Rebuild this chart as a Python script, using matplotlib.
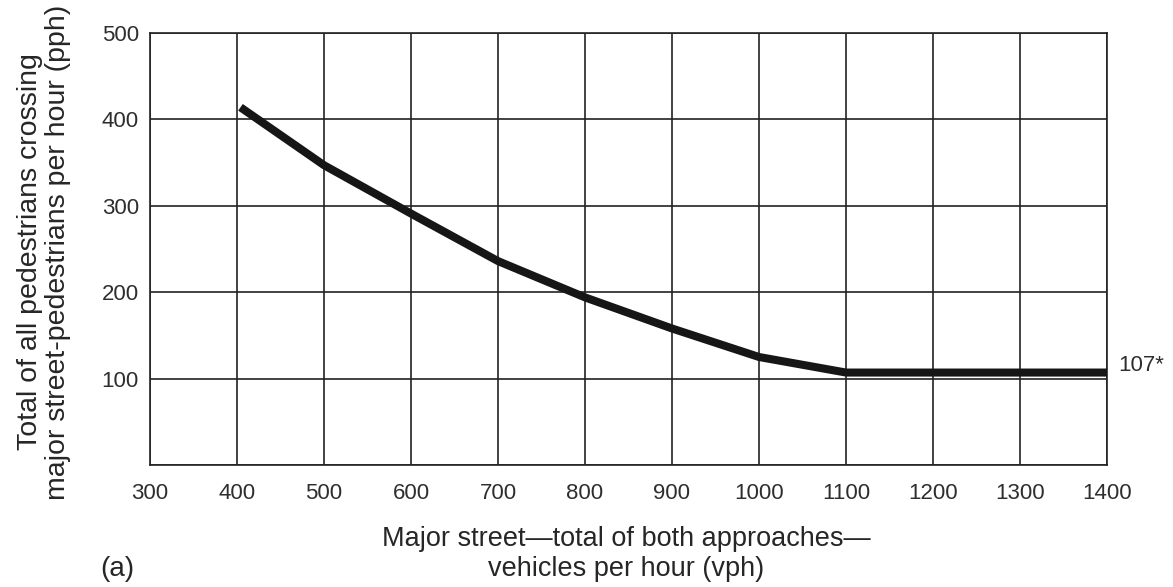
import matplotlib
matplotlib.use("Agg")
import matplotlib.pyplot as plt

# curve
vph = [404, 500, 600, 700, 800, 900, 1000, 1100, 1400]
pph = [414, 347, 291, 236, 194, 158, 125, 107, 107]

x_ticks = [300, 400, 500, 600, 700, 800, 900, 1000, 1100, 1200, 1300, 1400]
y_ticks = [0, 100, 200, 300, 400, 500]
y_ticklabels = ["", "100", "200", "300", "400", "500"]
end_label = "107*"

plt.rcParams['font.family'] = ['Liberation Sans', 'DejaVu Sans']
W, H = 1173, 587

fig = plt.figure(figsize=(W / 100, H / 100), dpi=100)
ax = fig.add_axes([150 / W, 1 - 465 / H, 957 / W, 432 / H])

ax.plot(vph, pph, color='#161616', lw=5.8, solid_capstyle='butt', zorder=3)

ax.set_xlim(300, 1400)
ax.set_ylim(0, 500)
ax.set_xticks(x_ticks)
ax.set_yticks(y_ticks)
ax.set_yticklabels(y_ticklabels)
ax.grid(True, color='#222222', lw=1.2)
ax.tick_params(length=0, labelsize=16, colors='#2e2e2e')
ax.tick_params(axis='x', pad=13)
ax.tick_params(axis='y', pad=8)
for s in ax.spines.values():
    s.set_color('#222222')
    s.set_linewidth(1.2)

# axis titles placed by hand to match the scan
fig.text(626 / W, 1 - 554 / H, "Major street\u2014total of both approaches\u2014\nvehicles per hour (vph)",
         ha='center', va='center', fontsize=19.5, color='#262626', linespacing=1.15)
fig.text(44 / W, 1 - 252 / H, "Total of all pedestrians crossing\nmajor street-pedestrians per hour (pph)",
         ha='center', va='center', rotation=90, fontsize=20.5, color='#262626', linespacing=1.1)

ax.annotate(end_label, xy=(vph[-1], pph[-1]), xytext=(8, 5), textcoords='offset points',
            ha='left', va='center', fontsize=16, color='#2e2e2e', annotation_clip=False)
fig.text(100 / W, 1 - 569 / H, "(a)", va='center', fontsize=20, color='#262626')

fig.savefig("out.png", dpi=100)
